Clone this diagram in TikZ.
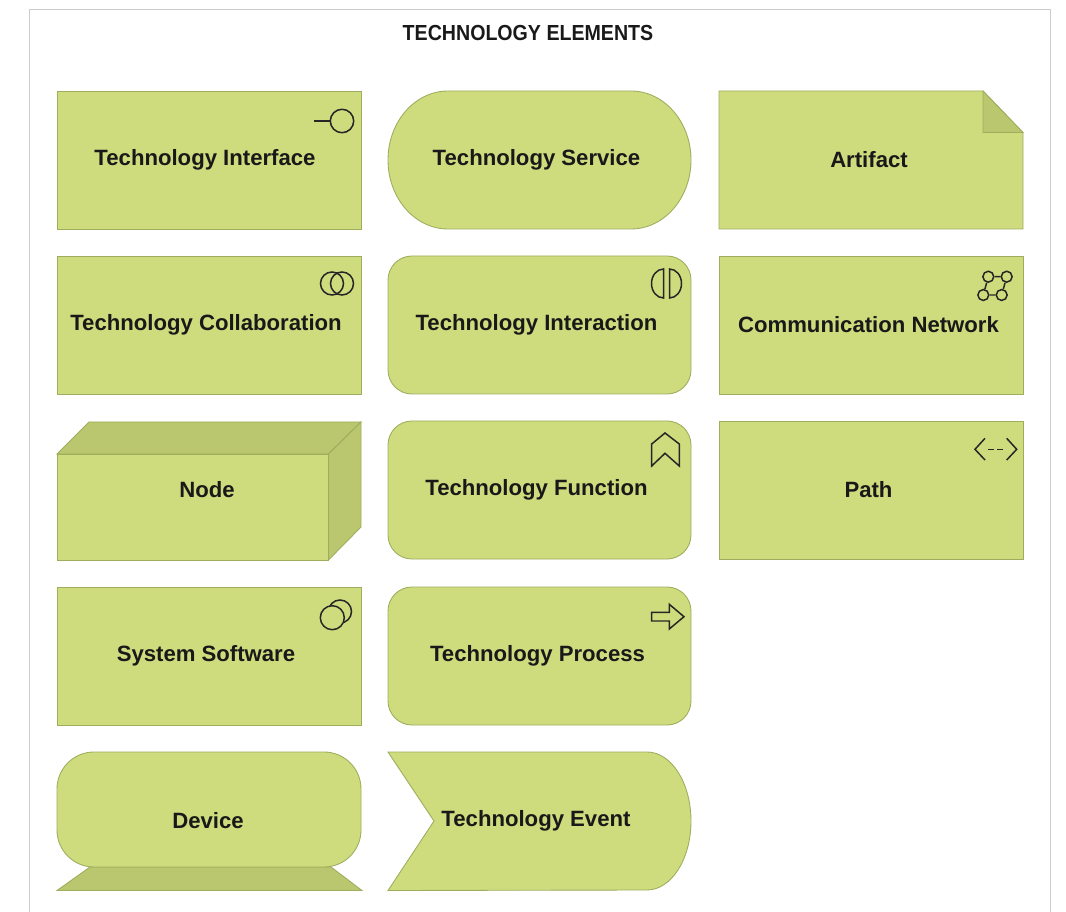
\documentclass[tikz,border=0pt]{standalone}
\usepackage{fontspec}
\setmainfont{Liberation Sans}
\newfontfamily\headfont[FakeStretch=0.9]{Liberation Sans}
\definecolor{techfill}{RGB}{206,220,125}
\definecolor{techdark}{RGB}{187,199,110}
\definecolor{techline}{RGB}{158,174,94}
\definecolor{pageline}{RGB}{204,204,204}
\tikzset{
	techshape/.style={draw=techline, fill=techfill, line width=0.5pt},
	techside/.style={draw=techline, fill=techdark, line width=0.5pt},
	techlabel/.style={font=\bfseries\fontsize{12.6}{15}\selectfont, text=black!90},
	techicon/.style={draw=black!85, line width=0.85pt},
	netdot/.style={circle, draw=black!85, line width=0.85pt, fill=techfill, inner sep=0pt, minimum size=6.2pt}
}
\begin{document}
\begin{tikzpicture}[x=0.02cm, y=-0.02cm]
	\useasboundingbox (0, 0) rectangle (1066, 912);
	%%%%% FRAME %%%%%
	\draw[pageline, line width=0.5pt] (29.5, 912) -- (29.5, 9) -- (1050, 9) -- (1050, 912);
	\node[font=\headfont\bfseries\fontsize{12.4}{15}\selectfont, text=black!90] (title) at (528, 33) {TECHNOLOGY ELEMENTS};

	%%%%% FIRST COLUMN %%%%%
	\draw[techshape] (57, 91) rectangle (361, 229);
	\draw[techicon] (314, 121) -- (330, 121);
	\draw[techicon] (342, 121) circle (11.7);
	\node[techlabel] (interface) at (205, 160) {Technology Interface};

	\draw[techshape] (57, 256) rectangle (361, 394);
	\draw[techicon] (332, 283.5) circle (11.5);
	\draw[techicon] (342, 283.5) circle (11.5);
	\node[techlabel] (collaboration) at (206, 325) {Technology Collaboration};

	\draw[techside] (57, 454) -- (89, 422) -- (361, 422) -- (328.5, 454) -- cycle;
	\draw[techside] (328.5, 454) -- (361, 422) -- (361, 527) -- (328.5, 560) -- cycle;
	\draw[techshape] (57, 454) rectangle (328.5, 560);
	\node[techlabel] (node) at (207, 490) {Node};

	\draw[techshape] (57, 587) rectangle (361, 725);
	\draw[techicon, fill=techfill] (340, 611.5) circle (11.5);
	\draw[techicon, fill=techfill] (332.3, 617.7) circle (12);
	\node[techlabel] (software) at (206, 656) {System Software};

	\draw[techside] (90, 867) -- (331, 867) -- (362, 890.5) -- (57, 890.5) -- cycle;
	\draw[techshape, rounded corners=0.74cm] (57, 752) rectangle (361, 867);
	\node[techlabel] (device) at (208, 821) {Device};

	%%%%% SECOND COLUMN %%%%%
	\draw[techshape] (448, 91) -- (631, 91) arc[start angle=-90, end angle=90, x radius=60, y radius=69] -- (448, 229) arc[start angle=90, end angle=270, x radius=60, y radius=69] -- cycle;
	\node[techlabel] (service) at (536.5, 160) {Technology Service};

	\draw[techshape, rounded corners=0.48cm] (388, 256) rectangle (691, 394);
	\draw[techicon] (663.5, 269) arc[start angle=-90, end angle=-270, x radius=12, y radius=14.5] -- cycle;
	\draw[techicon] (669.5, 269) arc[start angle=-90, end angle=90, x radius=12, y radius=14.5] -- cycle;
	\node[techlabel] (interaction) at (536.5, 325) {Technology Interaction};

	\draw[techshape, rounded corners=0.48cm] (388, 421) rectangle (691, 559);
	\draw[techicon] (665, 433) -- (679.3, 444) -- (679.3, 466) -- (665, 453.3) -- (651.7, 466) -- (651.7, 444) -- cycle;
	\node[techlabel] (function) at (536.5, 490) {Technology Function};

	\draw[techshape, rounded corners=0.48cm] (388, 587) rectangle (691, 725);
	\draw[techicon] (651.7, 612.3) -- (669.3, 612.3) -- (669.3, 604.3) -- (684, 616.7) -- (669.3, 629) -- (669.3, 621) -- (651.7, 621) -- cycle;
	\node[techlabel] (process) at (537.5, 656) {Technology Process};

	\draw[techshape] (388, 752) -- (647, 752) arc[start angle=-90, end angle=90, x radius=44, y radius=69] -- (388, 890.5) -- (434, 821) -- cycle;
	\node[techlabel] (event) at (536, 821) {Technology Event};

	%%%%% THIRD COLUMN %%%%%
	\draw[techshape] (719, 91) -- (983, 91) -- (1023, 132.5) -- (1023, 229) -- (719, 229) -- cycle;
	\draw[techside] (983, 91) -- (1023, 132.5) -- (983, 132.5) -- cycle;
	\node[techlabel] (artifact) at (869, 160) {Artifact};

	\draw[techshape] (719, 256) rectangle (1023, 394);
	\node[netdot] (neta) at (988.3, 276.7) {};
	\node[netdot] (netb) at (1006.7, 276.7) {};
	\node[netdot] (netc) at (983.3, 295) {};
	\node[netdot] (netd) at (1001.7, 295) {};
	\draw[techicon] (neta) -- (netb) -- (netd) -- (netc) -- (neta);
	\node[techlabel] (network) at (868.5, 325) {Communication Network};

	\draw[techshape] (719, 421) rectangle (1023, 559);
	\draw[techicon] (985, 438.3) -- (975, 449.3) -- (985, 460);
	\draw[techicon] (1006.7, 438.3) -- (1016.7, 449.3) -- (1006.7, 460);
	\draw[techicon, dash pattern=on 3.2pt off 2pt] (988, 449.3) -- (1004, 449.3);
	\node[techlabel] (path) at (868.5, 490) {Path};
\end{tikzpicture}
\end{document}
